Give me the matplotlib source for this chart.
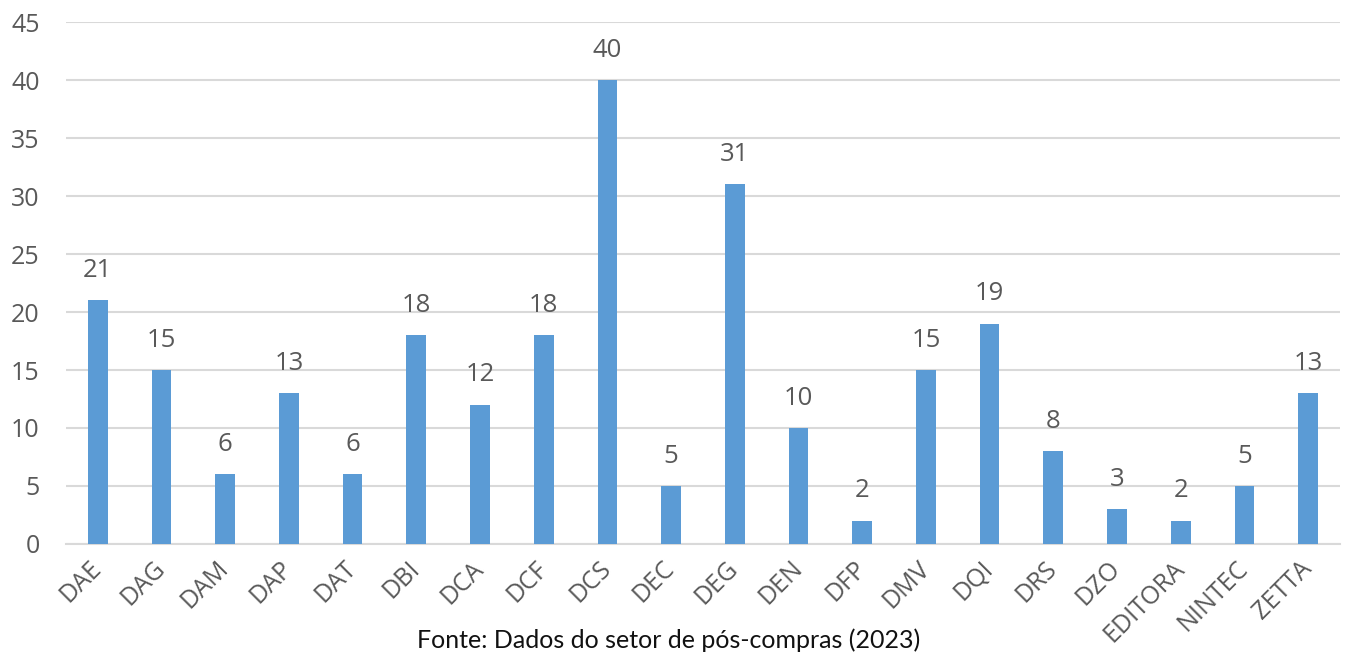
import matplotlib.pyplot as plt

# categories and counts
setores = ['DAE', 'DAG', 'DAM', 'DAP', 'DAT', 'DBI', 'DCA', 'DCF', 'DCS', 'DEC',
           'DEG', 'DEN', 'DFP', 'DMV', 'DQI', 'DRS', 'DZO', 'EDITORA', 'NINTEC', 'ZETTA']
valores = [21, 15, 6, 13, 6, 18, 12, 18, 40, 5, 31, 10, 2, 15, 19, 8, 3, 2, 5, 13]
yticks = [0, 5, 10, 15, 20, 25, 30, 35, 40, 45]

cinza = '#595959'
azul = '#5B9BD5'
plt.rcParams['font.family'] = ['Open Sans', 'DejaVu Sans']

fig = plt.figure(figsize=(13.46, 6.57), dpi=100)
ax = fig.add_axes([0.049, 0.172, 0.9465, 0.7945])

x = range(len(setores))
bars = ax.bar(x, valores, width=0.31, color=azul, zorder=3)

# value labels above the bars
for b, v in zip(bars, valores):
    ax.text(b.get_x() + b.get_width() / 2, v + 1.5, str(v), ha='center', va='bottom',
            fontsize=18.5, color=cinza)

ax.set_xlim(-0.5, len(setores) - 0.5)
ax.set_ylim(0, 45)
ax.set_yticks(yticks)
ax.set_yticklabels([str(t) for t in yticks], fontsize=18, color=cinza)
ax.set_xticks(list(x))
ax.set_xticklabels(setores, rotation=45, ha='right', va='center', rotation_mode='anchor',
                   fontsize=18, color=cinza)
ax.tick_params(axis='both', length=0)
ax.tick_params(axis='x', pad=15)
ax.tick_params(axis='y', pad=19)

ax.grid(axis='y', color='#D9D9D9', linewidth=1.5, zorder=0)
for s in ['top', 'right', 'left']:
    ax.spines[s].set_visible(False)
ax.spines['bottom'].set_color('#D9D9D9')
ax.spines['bottom'].set_linewidth(1.5)

fig.text(0.497, 0.008, 'Fonte: Dados do setor de pós-compras (2023)', ha='center',
         va='bottom', fontsize=18, family='Lato', color='#111111')

plt.savefig('out.png', dpi=100)
